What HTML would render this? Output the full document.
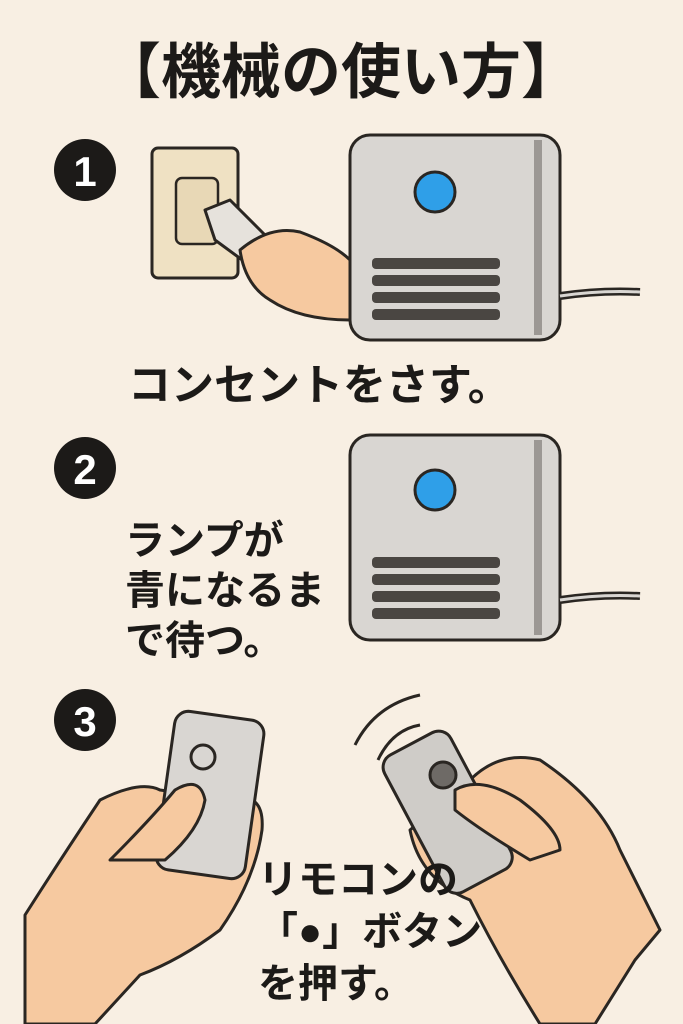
<!DOCTYPE html>
<html><head><meta charset="utf-8"><style>
html,body{margin:0;padding:0;background:#f8efe3;}
svg{display:block}
text{font-family:"Liberation Sans","Noto Sans CJK JP",sans-serif;font-weight:bold;fill:#1c1a18}
</style></head><body>
<svg width="683" height="1024" viewBox="0 0 683 1024" xmlns="http://www.w3.org/2000/svg">
<rect width="683" height="1024" fill="#f8efe3"/>
<text x="341" y="93" font-size="60" text-anchor="middle">【機械の使い方】</text>

<!-- step 1 -->
<circle cx="85" cy="170" r="31" fill="#1c1a18"/>
<text x="85" y="186" font-size="42" text-anchor="middle" style="fill:#fff">1</text>
<rect x="152" y="148" width="86" height="130" rx="6" fill="#efe1c3" stroke="#2a2622" stroke-width="3"/>
<rect x="176" y="178" width="42" height="66" rx="6" fill="#e8d8b6" stroke="#2a2622" stroke-width="2.5"/>
<g stroke="#2a2622" stroke-width="3" stroke-linejoin="round">
<path d="M205 210 L230 200 L265 235 L245 262 L215 240 Z" fill="#e6e2dc"/>
<path d="M240 250 Q270 225 300 232 Q335 245 350 260 L350 320 Q300 320 270 300 Q245 285 240 250 Z" fill="#f6c9a0"/>
</g>
<g>
<rect x="350" y="135" width="210" height="205" rx="20" fill="#d9d6d2" stroke="#2a2622" stroke-width="3"/>
<path d="M538 140 L538 335" stroke="#9c9894" stroke-width="8"/>
<circle cx="435" cy="192" r="20" fill="#2f9fe8" stroke="#2a2622" stroke-width="3"/>
<rect x="372" y="258" width="128" height="11" rx="4" fill="#4a4642"/>
<rect x="372" y="275" width="128" height="11" rx="4" fill="#4a4642"/>
<rect x="372" y="292" width="128" height="11" rx="4" fill="#4a4642"/>
<rect x="372" y="309" width="128" height="11" rx="4" fill="#4a4642"/>
<path d="M560 296 Q600 290 640 292" stroke="#2a2622" stroke-width="8" fill="none"/>
<path d="M560 296 Q600 290 640 292" stroke="#d9d6d2" stroke-width="3" fill="none"/>
</g>
<text x="128" y="400" font-size="43">コンセントをさす。</text>

<!-- step 2 -->
<circle cx="85" cy="468" r="31" fill="#1c1a18"/>
<text x="85" y="484" font-size="42" text-anchor="middle" style="fill:#fff">2</text>
<g>
<rect x="350" y="435" width="210" height="205" rx="20" fill="#d9d6d2" stroke="#2a2622" stroke-width="3"/>
<path d="M538 440 L538 635" stroke="#9c9894" stroke-width="8"/>
<circle cx="435" cy="490" r="20" fill="#2f9fe8" stroke="#2a2622" stroke-width="3"/>
<rect x="372" y="557" width="128" height="11" rx="4" fill="#4a4642"/>
<rect x="372" y="574" width="128" height="11" rx="4" fill="#4a4642"/>
<rect x="372" y="591" width="128" height="11" rx="4" fill="#4a4642"/>
<rect x="372" y="608" width="128" height="11" rx="4" fill="#4a4642"/>
<path d="M560 600 Q600 594 640 596" stroke="#2a2622" stroke-width="8" fill="none"/>
<path d="M560 600 Q600 594 640 596" stroke="#d9d6d2" stroke-width="3" fill="none"/>
</g>
<text x="125" y="554" font-size="40">ランプが</text>
<text x="125" y="604" font-size="40">青になるま</text>
<text x="125" y="654" font-size="40">で待つ。</text>

<!-- step 3 -->
<circle cx="85" cy="720" r="31" fill="#1c1a18"/>
<text x="85" y="736" font-size="42" text-anchor="middle" style="fill:#fff">3</text>
<g stroke="#2a2622" stroke-width="3" stroke-linejoin="round">
<path d="M25 995 L25 915 Q60 860 100 800 Q140 780 160 790 L230 800 Q265 790 262 830 Q255 880 220 930 Q180 960 140 975 L95 1024 L25 1024 Z" fill="#f6c9a0"/>
<rect x="165" y="715" width="90" height="160" rx="14" fill="#d9d6d2" transform="rotate(8 210 795)"/>
<path d="M110 860 Q150 820 175 790 Q200 775 205 800 Q200 830 165 860 Z" fill="#f6c9a0"/>
<path d="M635 960 L595 1024 L540 1024 Q500 960 470 900 Q420 880 410 830 L470 780 Q500 750 540 760 Q600 800 620 850 L660 930 Z" fill="#f6c9a0"/>
<rect x="410" y="735" width="75" height="155" rx="14" fill="#cfccc8" transform="rotate(-28 447 812)"/>
<path d="M455 790 Q480 775 520 800 Q560 830 560 850 L530 860 Q480 830 455 810 Z" fill="#f6c9a0"/>
</g>
<circle cx="203" cy="757" r="12" fill="none" stroke="#2a2622" stroke-width="3"/>
<circle cx="443" cy="775" r="13" fill="#6e6a66" stroke="#2a2622" stroke-width="3"/>
<path d="M355 745 Q375 705 420 695" stroke="#2a2622" stroke-width="3" fill="none"/>
<path d="M378 760 Q392 730 420 725" stroke="#2a2622" stroke-width="3" fill="none"/>
<text x="258" y="893" font-size="40">リモコンの</text>
<text x="258" y="945" font-size="40">「●」ボタン</text>
<text x="258" y="997" font-size="40">を押す。</text>
</svg>
</body></html>
